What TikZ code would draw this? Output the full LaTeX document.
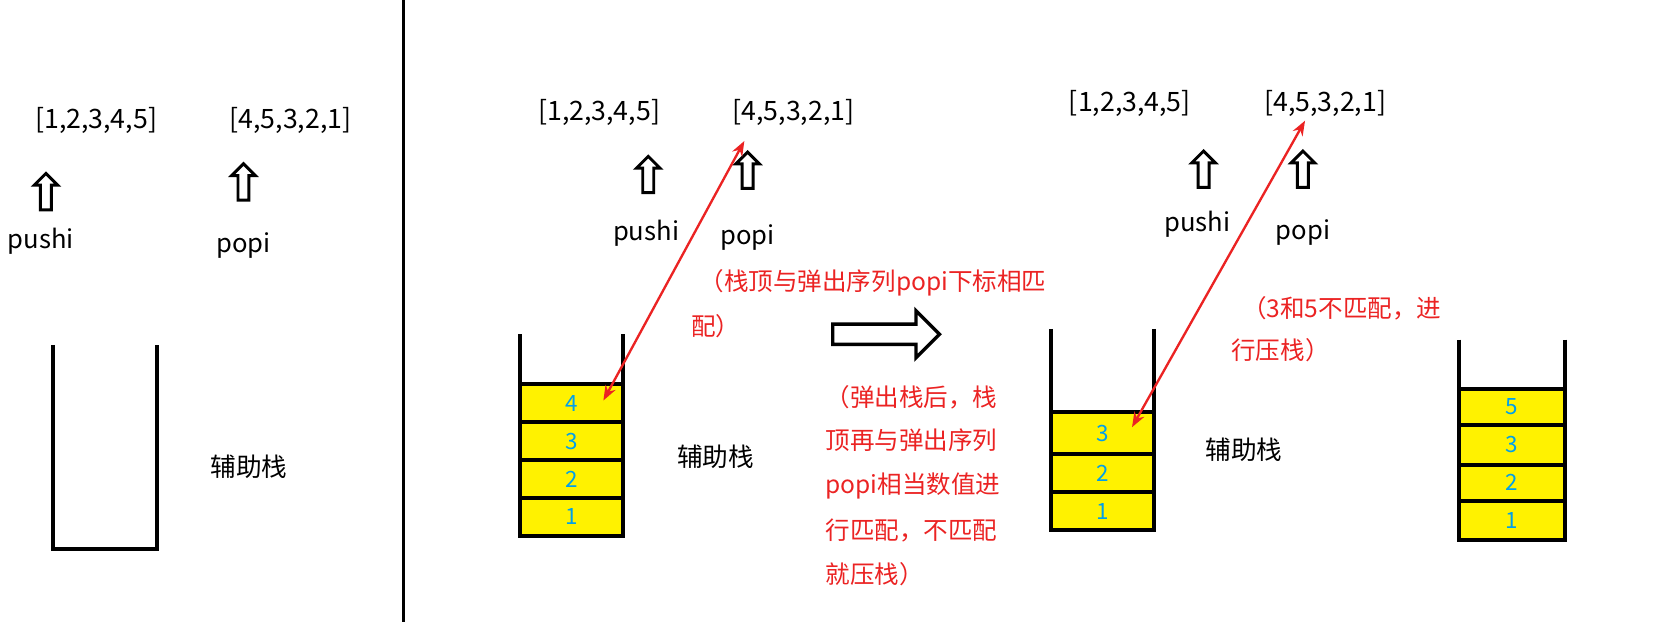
\documentclass[tikz,border=0pt]{standalone}
\usepackage{fontspec}
\setmainfont{Noto Sans CJK SC}
\usetikzlibrary{shapes.arrows,arrows.meta}
\definecolor{myred}{RGB}{235,35,35}
\definecolor{myblue}{RGB}{0,160,235}
\definecolor{myyellow}{RGB}{255,242,0}
\tikzset{
  seq/.style={font=\fontsize{12.5}{14}\selectfont},
  lbl/.style={font=\fontsize{12}{14}\selectfont},
  num/.style={font=\fontsize{10.5}{12}\selectfont,text=myblue},
  note/.style={font=\fontsize{11.5}{14}\selectfont,text=myred,anchor=west},
  uparr/.style={single arrow,draw,line width=1.4pt,rotate=90,minimum height=17pt,minimum width=11pt,single arrow head extend=2.5pt,inner sep=1.5pt},
  wall/.style={line width=1.9pt},
  cell/.style={draw,line width=1.9pt,fill=myyellow},
  redarr/.style={myred,line width=1.1pt,{Stealth[length=7pt]}-{Stealth[length=7pt]}}
}
\begin{document}
\begin{tikzpicture}[x=0.5pt,y=-0.5pt]
\useasboundingbox (0,0) rectangle (1560,582);
\draw[line width=1.6pt] (378,0) -- (378,582);
% left panel
\node[seq] (a1) at (90,113) {[1,2,3,4,5]};
\node[seq] (b1) at (272,113) {[4,5,3,2,1]};
\node[uparr] (ua1) at (43,182) {};
\node[uparr] (ub1) at (228,173) {};
\node[lbl] (p1) at (38,226) {pushi};
\node[lbl] (q1) at (228,230) {popi};
\draw[wall] (50,323) -- (50,514) -- (147,514) -- (147,323);
\node[lbl] (s1) at (233,437) {辅助栈};
% middle panel
\node[seq] (a2) at (561,105) {[1,2,3,4,5]};
\node[seq] (b2) at (743,105) {[4,5,3,2,1]};
\node[uparr] (ua2) at (607,166) {};
\node[uparr] (ub2) at (700,162) {};
\node[lbl] (p2) at (605,218) {pushi};
\node[lbl] (q2) at (700,222) {popi};
\draw[wall] (487,313) -- (487,360); \draw[wall] (583,313) -- (583,360);
\foreach \t/\b/\n in {360/395/4,395/431/3,431/466/2,466/502/1}
  \draw[cell] (487,\t) rectangle (583,\b) node[num,midway] {\n};
\coordinate (c2) at (565,375);
\node[lbl] (s2) at (670,428) {辅助栈};
\draw[redarr] (c2) -- (697,132);
\node[note] (n1) at (648,265) {（栈顶与弹出序列popi下标相匹};
\node[note] (n1b) at (640,305) {配）};
\node[single arrow,draw,line width=1.6pt,minimum height=50pt,minimum width=22pt,single arrow head extend=5pt,inner sep=3pt] (big) at (825,313) {};
\foreach \y/\s in {372/{（弹出栈后，栈},412/顶再与弹出序列,455/popi相当数值进,497/{行匹配，不匹配},538/就压栈）}
  \node[note] at (766,\y) {\s};
% right panel
\node[seq] (a3) at (1058,97) {[1,2,3,4,5]};
\node[seq] (b3) at (1241,97) {[4,5,3,2,1]};
\node[uparr] (ua3) at (1127,161) {};
\node[uparr] (ub3) at (1220,161) {};
\node[lbl] (p3) at (1121,210) {pushi};
\node[lbl] (q3) at (1220,218) {popi};
\draw[wall] (984,308) -- (984,386); \draw[wall] (1081,308) -- (1081,386);
\foreach \t/\b/\n in {386/425/3,425/461/2,461/496/1}
  \draw[cell] (984,\t) rectangle (1081,\b) node[num,midway] {\n};
\coordinate (c3) at (1060,400);
\node[lbl] (s3) at (1165,421) {辅助栈};
\draw[redarr] (c3) -- (1222,113);
\node[note] (n3) at (1156,289) {（3和5不匹配，进};
\node[note] (n3b) at (1146,328) {行压栈）};
% far right stack
\draw[wall] (1366,318) -- (1366,364); \draw[wall] (1465,318) -- (1465,364);
\foreach \t/\b/\n in {364/398/5,398/435/3,435/469/2,469/506/1}
  \draw[cell] (1366,\t) rectangle (1465,\b) node[num,midway] {\n};
\end{tikzpicture}
\end{document}
